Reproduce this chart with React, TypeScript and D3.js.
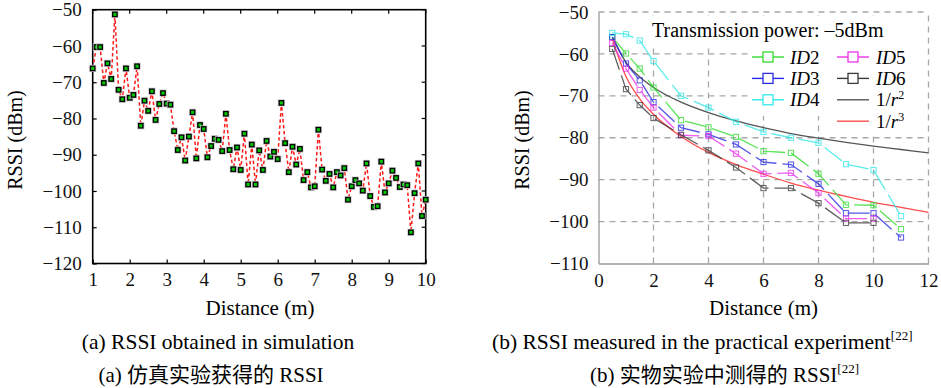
import React, { useEffect, useRef } from 'react';
import * as d3 from 'd3';

// (a) 仿真: distance (m) / RSSI (dBm)
const simDistance = [
  1.0, 1.1, 1.2, 1.3, 1.4, 1.5, 1.6, 1.7, 1.8, 1.9,
  2.0, 2.1, 2.2, 2.3, 2.4, 2.5, 2.6, 2.7, 2.8, 2.9,
  3.0, 3.1, 3.2, 3.3, 3.4, 3.5, 3.6, 3.7, 3.8, 3.9,
  4.0, 4.1, 4.2, 4.3, 4.4, 4.5, 4.6, 4.7, 4.8, 4.9,
  5.0, 5.1, 5.2, 5.3, 5.4, 5.5, 5.6, 5.7, 5.8, 5.9,
  6.0, 6.1, 6.2, 6.3, 6.4, 6.5, 6.6, 6.7, 6.8, 6.9,
  7.0, 7.1, 7.2, 7.3, 7.4, 7.5, 7.6, 7.7, 7.8, 7.9,
  8.0, 8.1, 8.2, 8.3, 8.4, 8.5, 8.6, 8.7, 8.8, 8.9,
  9.0, 9.1, 9.2, 9.3, 9.4, 9.5, 9.6, 9.7, 9.8, 9.9,
  10.0
];
const simRssi = [
  -66.2, -60.3, -60.3, -70.2, -64.8, -69.1, -51.3, -72.1, -74.7, -66.2,
  -74.3, -73.5, -65.6, -82.0, -75.1, -77.9, -72.5, -80.4, -76.0, -73.0,
  -75.9, -76.2, -83.5, -88.7, -85.2, -91.6, -85.0, -78.3, -91.0, -81.8,
  -82.9, -90.7, -87.6, -85.6, -85.9, -89.0, -78.7, -88.7, -94.0, -88.0,
  -94.2, -84.2, -98.2, -87.2, -98.2, -88.8, -94.2, -86.2, -90.5, -89.2,
  -91.2, -75.7, -86.8, -94.8, -87.8, -92.7, -88.4, -97.0, -94.8, -99.0,
  -98.7, -83.1, -94.1, -97.2, -95.3, -99.0, -94.8, -95.7, -93.7, -102.4,
  -98.7, -97.0, -97.9, -99.9, -92.4, -101.4, -104.4, -104.2, -91.9, -100.4,
  -97.9, -94.4, -96.4, -98.9, -98.2, -98.4, -111.4, -100.6, -92.4, -106.9,
  -102.4
];
const xTicksA = [1, 2, 3, 4, 5, 6, 7, 8, 9, 10];
const yTicksA = [-50, -60, -70, -80, -90, -100, -110, -120];

// (b) 实物实验
const expDistance = [0.5, 1, 1.5, 2, 3, 4, 5, 6, 7, 8, 9, 10, 11];
const id2Rssi = [-56, -59.9, -63.5, -68, -75.8, -77.5, -79.8, -83.2, -83.6, -88.6, -96, -96.1, -101.8];
const id3Rssi = [-56, -62.3, -66.3, -71.5, -77.6, -79.2, -81.6, -85.8, -86.4, -91, -98, -98, -103.8];
const id4Rssi = [-55, -55.3, -56.8, -61.7, -70, -72.8, -76.2, -78.6, -80, -81.2, -86.3, -87.7, -98.7];
const id5Rssi = [-57.4, -63.5, -68.6, -72.8, -79.4, -79.6, -83.8, -88.6, -88.4, -93.2, -99.3, -99.3];
const id6Rssi = [-58.8, -68.4, -72.2, -75.3, -79.3, -83, -87.1, -92, -92, -95.6, -100.3, -100.3];
const modelDistance = [0.5, 1, 1.5, 2, 3, 4, 5, 6, 7, 8, 9, 10, 11, 12];
const invSquareRssi = [-56, -62, -65.5, -68, -71.5, -74, -76, -77.6, -79, -80.1, -81.1, -82, -82.8, -83.6];
const invCubeRssi = [-56.4, -65.4, -70.7, -74.4, -79.7, -83.5, -86.4, -88.7, -90.8, -92.5, -94, -95.4, -96.6, -97.8];
const xTicksB = [0, 2, 4, 6, 8, 10, 12];
const yTicksB = [-50, -60, -70, -80, -90, -100, -110];

const serif = "'Liberation Serif', 'Times New Roman', serif";
const cjk = "'Liberation Serif', 'Noto Sans CJK SC', serif";

const App = () => {
  const ref = useRef<SVGSVGElement>(null);

  useEffect(() => {
    const svg = d3.select(ref.current);
    svg.selectAll('*').remove();

    // ---------- (a) ----------
    const xa = d3.scaleLinear().domain([1, 10]).range([92.7, 425.7]);
    const ya = d3.scaleLinear().domain([-120, -50]).range([263.5, 9.7]);
    const ga = svg.append('g');

    // 坐标轴 (刻度朝内)
    const axA = ga.append('g').attr('transform', 'translate(0,263.5)')
      .call(d3.axisBottom(xa).tickValues(xTicksA).tickSizeInner(-4).tickSizeOuter(0).tickPadding(9).tickFormat(d3.format('d')));
    const ayA = ga.append('g').attr('transform', 'translate(92.7,0)')
      .call(d3.axisLeft(ya).tickValues(yTicksA).tickSizeInner(-4).tickSizeOuter(0).tickPadding(11));
    [axA, ayA].forEach(a => {
      a.selectAll('text').attr('font-family', serif).attr('font-size', 19).attr('fill', '#111');
      a.selectAll('line').attr('stroke', '#000').attr('stroke-width', 1.2);
      a.select('.domain').remove();
    });
    // mirror ticks
    ga.selectAll('.tt').data(xTicksA).enter().append('line')
      .attr('x1', d => xa(d)).attr('x2', d => xa(d)).attr('y1', ya(-50)).attr('y2', ya(-50) + 4)
      .attr('stroke', '#000').attr('stroke-width', 1.2);
    ga.selectAll('.rt').data(yTicksA).enter().append('line')
      .attr('x1', xa(10)).attr('x2', xa(10) - 4).attr('y1', d => ya(d)).attr('y2', d => ya(d))
      .attr('stroke', '#000').attr('stroke-width', 1.2);
    ga.append('rect')
      .attr('x', xa(1)).attr('y', ya(-50)).attr('width', xa(10) - xa(1)).attr('height', ya(-120) - ya(-50))
      .attr('fill', 'none').attr('stroke', '#000').attr('stroke-width', 1.6);

    const lineA = d3.line<number>().x((d, i) => xa(simDistance[i])).y(d => ya(d));
    ga.append('path').datum(simRssi).attr('d', lineA)
      .attr('fill', 'none').attr('stroke', '#ff1a1a').attr('stroke-width', 1.5).attr('stroke-dasharray', '3.5,2.5');
    const pts = ga.selectAll('.pt').data(simRssi).enter().append('g')
      .attr('transform', (d, i) => `translate(${xa(simDistance[i])},${ya(d)})`);
    pts.append('rect').attr('x', -3.6).attr('y', -3.6).attr('width', 7.2).attr('height', 7.2).attr('fill', '#c8c8c8');
    pts.append('rect').attr('x', -2.2).attr('y', -2.2).attr('width', 4.4).attr('height', 4.4)
      .attr('fill', '#00c800').attr('stroke', '#000').attr('stroke-width', 1.3);

    ga.append('text').attr('transform', 'translate(22,140) rotate(-90)').attr('text-anchor', 'middle')
      .attr('font-family', serif).attr('font-size', 20).text('RSSI (dBm)');
    ga.append('text').attr('x', 260).attr('y', 315).attr('text-anchor', 'middle')
      .attr('font-family', serif).attr('font-size', 21).text('Distance (m)');
    ga.append('text').attr('x', 218).attr('y', 349).attr('text-anchor', 'middle')
      .attr('font-family', serif).attr('font-size', 21.5).text('(a) RSSI obtained in simulation');
    ga.append('text').attr('x', 211).attr('y', 382).attr('text-anchor', 'middle')
      .attr('font-family', cjk).attr('font-size', 21).text('(a)  仿真实验获得的 RSSI');

    // ---------- (b) ----------
    const xb = d3.scaleLinear().domain([0, 12]).range([598.5, 928.5]);
    const yb = d3.scaleLinear().domain([-110, -50]).range([263.5, 12]);
    const gb = svg.append('g');
    const gridColor = '#a8a8a8';

    gb.selectAll('.gx').data(xTicksB.filter(d => d > 0)).enter().append('line')
      .attr('x1', d => xb(d)).attr('x2', d => xb(d)).attr('y1', yb(-110)).attr('y2', yb(-50))
      .attr('stroke', gridColor).attr('stroke-width', 1.3).attr('stroke-dasharray', '6,5');
    gb.selectAll('.gy').data(yTicksB.filter(d => d > -110)).enter().append('line')
      .attr('x1', xb(0)).attr('x2', xb(12)).attr('y1', d => yb(d)).attr('y2', d => yb(d))
      .attr('stroke', gridColor).attr('stroke-width', 1.3).attr('stroke-dasharray', '6,5');

    const axB = gb.append('g').attr('transform', `translate(0,${yb(-110)})`)
      .call(d3.axisBottom(xb).tickValues(xTicksB).tickSize(0).tickPadding(10).tickFormat(d3.format('d')));
    const ayB = gb.append('g').attr('transform', `translate(${xb(0)},0)`)
      .call(d3.axisLeft(yb).tickValues(yTicksB).tickSize(0).tickPadding(10));
    [axB, ayB].forEach(a => {
      a.selectAll('text').attr('font-family', serif).attr('font-size', 19).attr('fill', '#111');
      a.select('.domain').attr('stroke', '#999').attr('stroke-width', 1.3);
    });

    const modelLine = d3.line<number>().x((d, i) => xb(modelDistance[i])).y(d => yb(d)).curve(d3.curveMonotoneX);
    gb.append('path').datum(invSquareRssi).attr('d', modelLine)
      .attr('fill', 'none').attr('stroke', '#555').attr('stroke-width', 1.3);
    gb.append('path').datum(invCubeRssi).attr('d', modelLine)
      .attr('fill', 'none').attr('stroke', '#ff4d4d').attr('stroke-width', 1.3);

    const measured = [
      { name: 'ID2', values: id2Rssi, color: '#33dd33' },
      { name: 'ID3', values: id3Rssi, color: '#2a2ae0' },
      { name: 'ID4', values: id4Rssi, color: '#33e8e8' },
      { name: 'ID5', values: id5Rssi, color: '#ee33ee' },
      { name: 'ID6', values: id6Rssi, color: '#3a3a3a' }
    ];
    const expLine = d3.line<number>().x((d, i) => xb(expDistance[i])).y(d => yb(d));
    measured.forEach(s => {
      const g = gb.append('g').attr('opacity', 0.8);
      g.append('path').datum(s.values).attr('d', expLine)
        .attr('fill', 'none').attr('stroke', s.color).attr('stroke-width', 1.3).attr('stroke-dasharray', '22,6');
      g.selectAll('rect').data(s.values).enter().append('rect')
        .attr('x', (d, i) => xb(expDistance[i]) - 2.6).attr('y', d => yb(d) - 2.6)
        .attr('width', 5.2).attr('height', 5.2).attr('fill', 'none').attr('stroke', s.color).attr('stroke-width', 1);
    });

    // 图例
    gb.append('rect').attr('x', 648).attr('y', 16).attr('width', 250).attr('height', 28).attr('fill', '#fff');
    gb.append('rect').attr('x', 748).attr('y', 42).attr('width', 177).attr('height', 74).attr('fill', '#fff');
    gb.append('rect').attr('x', 832).attr('y', 114).attr('width', 93).attr('height', 19).attr('fill', '#fff');
    gb.append('text').attr('x', 652).attr('y', 37).attr('font-family', serif).attr('font-size', 20)
      .text('Transmission power: \u20135dBm');

    const legendRows = [
      { label: 'ID2', color: '#33dd33', col: 0, row: 0, box: true },
      { label: 'ID3', color: '#2a2ae0', col: 0, row: 1, box: true },
      { label: 'ID4', color: '#33e8e8', col: 0, row: 2, box: true },
      { label: 'ID5', color: '#ee33ee', col: 1, row: 0, box: true },
      { label: 'ID6', color: '#3a3a3a', col: 1, row: 1, box: true },
      { label: 'r2', color: '#555', col: 1, row: 2, box: false },
      { label: 'r3', color: '#ff4d4d', col: 1, row: 3, box: false }
    ];
    legendRows.forEach(r => {
      const x0 = r.col === 0 ? 752 : 837;
      const base = 63.5 + r.row * 21.4;
      const ly = base - 6.5;
      gb.append('line').attr('x1', x0).attr('x2', x0 + 32).attr('y1', ly).attr('y2', ly)
        .attr('stroke', r.color).attr('stroke-width', 1.4);
      if (r.box) {
        gb.append('rect').attr('x', x0 + 11).attr('y', ly - 5).attr('width', 10).attr('height', 10)
          .attr('fill', '#fff').attr('stroke', r.color).attr('stroke-width', 1.3);
      }
      const t = gb.append('text').attr('x', r.col === 0 ? 790 : 876).attr('y', base)
        .attr('font-family', serif).attr('font-size', 19);
      if (r.box) {
        t.append('tspan').attr('font-style', 'italic').text('ID');
        t.append('tspan').text(r.label.slice(2));
      } else {
        t.append('tspan').text('1/');
        t.append('tspan').attr('font-style', 'italic').text('r');
        t.append('tspan').attr('font-size', 12).attr('dy', -7).text(r.label.slice(1));
      }
    });

    gb.append('text').attr('transform', 'translate(529,140) rotate(-90)').attr('text-anchor', 'middle')
      .attr('font-family', serif).attr('font-size', 20).text('RSSI (dBm)');
    gb.append('text').attr('x', 763.5).attr('y', 315).attr('text-anchor', 'middle')
      .attr('font-family', serif).attr('font-size', 21).text('Distance (m)');
    const capB = gb.append('text').attr('x', 492).attr('y', 349)
      .attr('font-family', serif).attr('font-size', 21.5);
    capB.append('tspan').text('(b) RSSI measured in the practical experiment');
    capB.append('tspan').attr('font-size', 13).attr('dy', -9).text('[22]');
    const capB2 = gb.append('text').attr('x', 590).attr('y', 382)
      .attr('font-family', cjk).attr('font-size', 21);
    capB2.append('tspan').text('(b)  实物实验中测得的 RSSI');
    capB2.append('tspan').attr('font-size', 13).attr('dy', -9).text('[22]');
  }, []);

  return (
    <svg ref={ref} width={941} height={388}
      style={{ position: 'absolute', left: 0, top: 0, background: '#fff' }} />
  );
};

export default App;
